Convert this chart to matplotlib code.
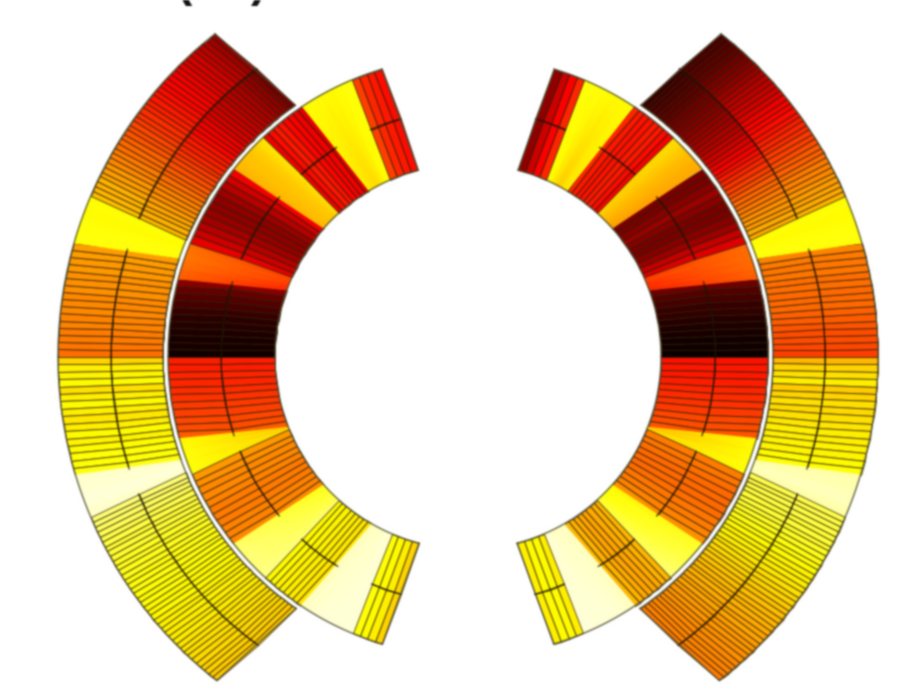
import numpy as np
import matplotlib
matplotlib.use("Agg")
import matplotlib.pyplot as plt

cx, cy = 468, 356.5
r_inner = (193, 247, 300)
r_outer = (305, 357, 410)

# sector edges in degrees from the horizontal: (at small radius, at large radius)
inner_up = [(0, 0), (20.2, 15.0), (24.2, 22.3), (41.7, 38.8), (48.0, 47.0), (59.2, 56.5), (66.3, 67.2), (75.0, 73.3)]
inner_lo = [(0, 0), (21.5, 15.9), (22.2, 23.0), (41.7, 38.7), (47.9, 47.5), (60.2, 56.2), (66.7, 67.4), (75.3, 73.4)]
outer_up = [(0, 0), (18.8, 16.1), (22.5, 23.0), (55.5, 51.9)]
outer_lo = [(0, 0), (19.9, 16.8), (22.3, 23.0), (55.7, 52.2)]
inner_lined = [True, False, True, False, True, False, True]
outer_lined = [True, False, True]

# upper left
ul_outer = [
    [0.53, 0.54, 0.55, 0.55, 0.56, 0.56, 0.57, 0.57, 0.57, 0.58, 0.58, 0.58, 0.59, 0.59, 0.6, 0.6],
    [0.75, 0.76, 0.75, 0.75, 0.74, 0.75, 0.74],
    ([0.64, 0.63, 0.62, 0.61, 0.6, 0.58, 0.57, 0.56, 0.54, 0.53, 0.51, 0.5, 0.48, 0.47, 0.45, 0.44, 0.42, 0.41, 0.4,
      0.39, 0.37, 0.36, 0.35, 0.34, 0.32, 0.31, 0.3, 0.29, 0.28, 0.27, 0.26, 0.25, 0.24, 0.23, 0.21, 0.2, 0.18, 0.16],
     [0.65, 0.64, 0.63, 0.63, 0.61, 0.6, 0.59, 0.57, 0.56, 0.55, 0.53, 0.52, 0.51, 0.49, 0.48, 0.47, 0.45, 0.44, 0.43,
      0.42, 0.41, 0.4, 0.39, 0.38, 0.37, 0.37, 0.36, 0.35, 0.34, 0.33, 0.31, 0.31, 0.3, 0.28, 0.27, 0.25, 0.23, 0.21]),
]
ul_inner = [
    [0.01, 0.02, 0.02, 0.03, 0.04, 0.05, 0.07, 0.09, 0.11, 0.14, 0.19],
    ([0.42, 0.44, 0.46, 0.47, 0.46], [0.5, 0.52, 0.54, 0.54, 0.52]),
    [0.33, 0.29, 0.26, 0.23, 0.21, 0.2, 0.2, 0.22, 0.26, 0.3, 0.35],
    ([0.64, 0.65, 0.66, 0.67, 0.7], [0.63, 0.65, 0.66, 0.68, 0.72]),
    [0.34, 0.38, 0.4, 0.39, 0.37, 0.36, 0.35, 0.32],
    ([0.72, 0.7, 0.69, 0.71, 0.74, 0.75], [0.74, 0.75, 0.74, 0.74, 0.75, 0.75]),
    [0.46, 0.42, 0.4, 0.38],
]

# lower left
ll_outer = [
    [0.68, 0.72, 0.73, 0.74, 0.7, 0.72, 0.74, 0.72, 0.71, 0.72, 0.74, 0.73, 0.74, 0.75, 0.75, 0.76],
    [0.94, 0.95, 0.95, 0.96, 0.96, 0.95, 0.94],
    [0.86, 0.85, 0.84, 0.83, 0.82, 0.81, 0.8, 0.8, 0.79, 0.78, 0.78, 0.77, 0.77, 0.76, 0.76, 0.76, 0.75, 0.75, 0.75,
     0.74, 0.74, 0.74, 0.73, 0.73, 0.73, 0.72, 0.72, 0.72, 0.71, 0.71, 0.7, 0.7, 0.69, 0.69, 0.68, 0.68, 0.67, 0.67],
]
ll_inner = [
    [0.41, 0.41, 0.42, 0.42, 0.43, 0.44, 0.45, 0.46, 0.47, 0.48, 0.5],
    ([0.66, 0.67, 0.68, 0.7], [0.74, 0.75, 0.75, 0.75]),
    [0.59, 0.58, 0.57, 0.57, 0.56, 0.55, 0.55, 0.55, 0.56, 0.56, 0.57],
    ([0.76, 0.78, 0.79, 0.81, 0.84], [0.84, 0.86, 0.87, 0.87, 0.88]),
    [0.74, 0.74, 0.73, 0.73, 0.72, 0.72, 0.71, 0.71],
    ([0.93, 0.94, 0.94, 0.95, 0.95], [0.93, 0.95, 0.96, 0.96, 0.96]),
    [0.75, 0.74, 0.72, 0.68],
]

# upper right
ur_outer = [
    [0.46, 0.47, 0.48, 0.48, 0.49, 0.5, 0.51, 0.52, 0.52, 0.52, 0.53, 0.53, 0.54, 0.54, 0.55, 0.56],
    [0.75, 0.76, 0.75, 0.75, 0.74, 0.75, 0.74],
    ([0.62, 0.62, 0.6, 0.59, 0.58, 0.56, 0.55, 0.53, 0.52, 0.5, 0.48, 0.46, 0.44, 0.42, 0.4, 0.38, 0.36, 0.34, 0.32,
      0.3, 0.28, 0.26, 0.25, 0.23, 0.22, 0.21, 0.19, 0.18, 0.17, 0.16, 0.15, 0.13, 0.12, 0.11, 0.1, 0.09, 0.08, 0.07],
     [0.63, 0.62, 0.61, 0.6, 0.59, 0.57, 0.56, 0.55, 0.53, 0.51, 0.5, 0.48, 0.46, 0.45, 0.43, 0.42, 0.41, 0.39, 0.38,
      0.37, 0.36, 0.34, 0.32, 0.3, 0.29, 0.27, 0.26, 0.24, 0.22, 0.2, 0.18, 0.17, 0.15, 0.13, 0.12, 0.11, 0.1, 0.09]),
]
ur_inner = [
    [0.0, 0.01, 0.01, 0.02, 0.03, 0.04, 0.06, 0.07, 0.09, 0.11, 0.15],
    ([0.42, 0.43, 0.44, 0.46, 0.45], [0.5, 0.52, 0.53, 0.53, 0.52]),
    [0.32, 0.28, 0.22, 0.19, 0.17, 0.17, 0.19, 0.22, 0.19, 0.17, 0.17],
    ([0.6, 0.62, 0.64, 0.66, 0.68], [0.62, 0.63, 0.65, 0.68, 0.7]),
    [0.36, 0.38, 0.4, 0.4, 0.39, 0.39, 0.4, 0.42],
    ([0.72, 0.7, 0.67, 0.7, 0.74, 0.75], [0.74, 0.74, 0.74, 0.75, 0.75, 0.75]),
    [0.42, 0.36, 0.29, 0.2],
]

# lower right
lr_outer = [
    [0.64, 0.68, 0.7, 0.72, 0.67, 0.68, 0.7, 0.69, 0.7, 0.71, 0.72, 0.72, 0.73, 0.73, 0.74, 0.75],
    [0.91, 0.92, 0.92, 0.93, 0.93, 0.92, 0.91],
    [0.82, 0.82, 0.81, 0.81, 0.8, 0.8, 0.79, 0.78, 0.77, 0.76, 0.75, 0.74, 0.73, 0.73, 0.72, 0.71, 0.7, 0.69, 0.68,
     0.67, 0.66, 0.65, 0.64, 0.64, 0.63, 0.62, 0.61, 0.61, 0.6, 0.59, 0.59, 0.58, 0.58, 0.57, 0.57, 0.56, 0.56, 0.55],
]
lr_inner = [
    [0.39, 0.4, 0.4, 0.41, 0.42, 0.43, 0.44, 0.45, 0.47, 0.48, 0.49],
    ([0.66, 0.65, 0.68, 0.7], [0.74, 0.74, 0.75, 0.75]),
    [0.55, 0.54, 0.53, 0.52, 0.52, 0.52, 0.53, 0.54, 0.55, 0.56, 0.58],
    ([0.73, 0.75, 0.75, 0.77, 0.8], [0.78, 0.8, 0.82, 0.84, 0.86]),
    [0.64, 0.63, 0.62, 0.61, 0.61, 0.62, 0.63, 0.64],
    ([0.93, 0.94, 0.94, 0.95, 0.95], [0.93, 0.95, 0.96, 0.96, 0.96]),
    [0.72, 0.74, 0.74, 0.72],
]

fig = plt.figure(figsize=(9.07, 6.89), dpi=100)
ax = fig.add_axes([0, 0, 1, 1])
ax.set_xlim(0, 907)
ax.set_ylim(689, 0)
ax.axis("off")

line_col = (0.16, 0.1, 0.0, 0.75)


def soften(img, dpi):
    # the reference is a blurry upscaled picture, so smooth the drawing a little
    a = img[:, :, 3:]
    rgb = img[:, :, :3] * a + (1 - a)
    rgb = np.pad(rgb, 4, mode="constant", constant_values=1)[:, :, 4:7]
    k = np.exp(-0.5 * (np.arange(-3, 4) / 0.9) ** 2)
    k = k / k.sum()
    out = sum(w * np.roll(rgb, i - 3, axis=0) for i, w in enumerate(k))
    out = sum(w * np.roll(out, i - 3, axis=1) for i, w in enumerate(k))
    res = np.dstack([out, np.ones(out.shape[:2])])
    return res, -4, -4


def to_xy(r, th, sx, sy):
    return cx + sx * r * np.cos(np.radians(th)), cy - sy * r * np.sin(np.radians(th))


def draw_sector(lo, hi, radii, vals, lined, sx, sy):
    if isinstance(vals, tuple):
        col_a, col_b = vals
    else:
        col_a, col_b = vals, vals
    n = len(col_a)
    if lined:
        rr = np.array(radii, dtype=float)
        s = np.linspace(0, 1, n + 1)
    else:
        # plain wedges are shaded smoothly between their values
        rr = np.array([radii[0], radii[2]], dtype=float)
        s = np.linspace(0, 1, n)
    frac = (rr - rr[0]) / (rr[-1] - rr[0])
    lo_th = lo[0] + (lo[1] - lo[0]) * frac
    hi_th = hi[0] + (hi[1] - hi[0]) * frac
    th = lo_th[None, :] + (hi_th - lo_th)[None, :] * s[:, None]
    R = np.tile(rr, (len(s), 1))
    X, Y = to_xy(R, th, sx, sy)
    C = np.array([col_a, col_b]).T
    if lined:
        ax.pcolormesh(X, Y, C, cmap="hot", vmin=0, vmax=1, shading="flat",
                      edgecolors=line_col, linewidth=0.7, antialiased=True)
        x, y = to_xy(rr[1], th[:, 1], sx, sy)
        ax.plot(x, y, color="#1a1000", lw=0.95, alpha=0.8)
    else:
        ax.pcolormesh(X, Y, C, cmap="hot", vmin=0, vmax=1, shading="gouraud")


def draw_ring(edges, radii, sectors, lined, sx, sy):
    for i, vals in enumerate(sectors):
        draw_sector(edges[i], edges[i + 1], radii, vals, lined[i], sx, sy)
    # outline of the ring
    for r, k in ((radii[0], 0), (radii[2], 1)):
        th = np.linspace(0, edges[-1][k], 80)
        x, y = to_xy(r, th, sx, sy)
        ax.plot(x, y, color="#4a4a30", lw=1.0, alpha=0.85)
    x, y = to_xy(np.array([radii[0], radii[2]]), np.array(edges[-1]), sx, sy)
    ax.plot(x, y, color="#4a4a30", lw=1.0, alpha=0.85)


draw_ring(outer_up, r_outer, ul_outer, outer_lined, -1, 1)
draw_ring(inner_up, r_inner, ul_inner, inner_lined, -1, 1)
draw_ring(outer_lo, r_outer, ll_outer, outer_lined, -1, -1)
draw_ring(inner_lo, r_inner, ll_inner, inner_lined, -1, -1)
draw_ring(outer_up, r_outer, ur_outer, outer_lined, 1, 1)
draw_ring(inner_up, r_inner, ur_inner, inner_lined, 1, 1)
draw_ring(outer_lo, r_outer, lr_outer, outer_lined, 1, -1)
draw_ring(inner_lo, r_inner, lr_inner, inner_lined, 1, -1)

ax.text(184, 6, "(", fontsize=33, fontweight="bold", family="Liberation Sans", ha="center", va="bottom", color="#111111")
ax.text(259, 6, ")", fontsize=33, fontweight="bold", family="Liberation Sans", ha="center", va="bottom", color="#111111")

ax.set_agg_filter(soften)
fig.savefig("out.png", dpi=100)
